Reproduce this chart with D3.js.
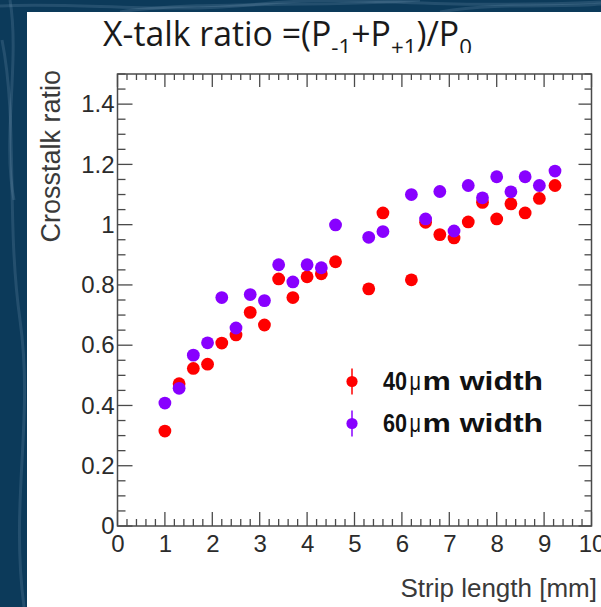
<!DOCTYPE html>
<html>
<head>
<meta charset="utf-8">
<script src="https://cdn.jsdelivr.net/npm/d3@7"></script>
<style>
  html, body { margin: 0; padding: 0; background: #0c3a5a; }
  svg { display: block; }
</style>
</head>
<body>
<svg id="chart" width="601" height="607"></svg>
<script>
// Strip lengths (mm) and measured crosstalk ratios for the two strip widths
const stripLength40 = [1.0, 1.3, 1.6, 1.9, 2.2, 2.5, 2.8, 3.1, 3.4, 3.7, 4.0, 4.3, 4.6, 5.3, 5.6, 6.2, 6.5, 6.8, 7.1, 7.4, 7.7, 8.0, 8.3, 8.6, 8.9, 9.23];
const ratio40 = [0.315, 0.472, 0.523, 0.537, 0.607, 0.634, 0.709, 0.667, 0.820, 0.758, 0.827, 0.837, 0.877, 0.787, 1.039, 0.817, 1.008, 0.967, 0.956, 1.009, 1.074, 1.019, 1.069, 1.039, 1.087, 1.130];
const stripLength60 = [1.0, 1.3, 1.6, 1.9, 2.2, 2.5, 2.8, 3.1, 3.4, 3.7, 4.0, 4.3, 4.6, 5.3, 5.6, 6.2, 6.5, 6.8, 7.1, 7.4, 7.7, 8.0, 8.3, 8.6, 8.9, 9.23];
const ratio60 = [0.408, 0.457, 0.567, 0.608, 0.758, 0.657, 0.768, 0.748, 0.867, 0.810, 0.867, 0.857, 0.999, 0.958, 0.977, 1.100, 1.019, 1.110, 0.979, 1.130, 1.089, 1.159, 1.109, 1.159, 1.130, 1.178];

const xTickValues = [0, 1, 2, 3, 4, 5, 6, 7, 8, 9, 10];
const xTickLabels = ["0", "1", "2", "3", "4", "5", "6", "7", "8", "9", "10"];
const yTickValues = [0, 0.2, 0.4, 0.6, 0.8, 1.0, 1.2, 1.4];
const yTickLabels = ["0", "0.2", "0.4", "0.6", "0.8", "1", "1.2", "1.4"];

const seriesNames = ["40", "60"];
const seriesColors = ["#ff0000", "#8800ff"];

const svg = d3.select("#chart");
const W = 601, H = 607;

// Slide background with faint streaks
svg.append("rect").attr("width", W).attr("height", H).attr("fill", "#0c3a5a");
const streaks = [
  "M0,6 C80,2 160,14 260,4 S420,10 601,2",
  "M120,12 C200,0 330,8 420,0",
  "M2,40 C18,120 6,220 20,320 S10,500 24,607",
  "M10,0 C20,60 2,140 14,200",
  "M440,12 C500,2 560,8 601,4"
];
svg.append("g").selectAll("path").data(streaks).join("path")
  .attr("d", d => d).attr("fill", "none")
  .attr("stroke", "#9fc3dc").attr("stroke-opacity", 0.16).attr("stroke-width", 3);

// White panel
svg.append("rect").attr("x", 27).attr("y", 12).attr("width", W - 27).attr("height", H - 12).attr("fill", "#ffffff");

// Title (bottom of the subscripts hidden under the plot image)
svg.append("defs").append("clipPath").attr("id", "titleClip")
  .append("rect").attr("x", 27).attr("y", 12).attr("width", W).attr("height", 41);
const title = svg.append("text")
  .attr("clip-path", "url(#titleClip)")
  .attr("x", 103).attr("y", 45.5)
  .attr("font-family", "'Open Sans', Lato, sans-serif")
  .attr("font-size", 30).attr("fill", "#1a1a1a");
const subSize = 0.66;
const titleParts = [
  { t: "X-talk ratio =(P", sub: false },
  { t: "-1", sub: true },
  { t: "+P", sub: false },
  { t: "+1", sub: true },
  { t: ")/P", sub: false },
  { t: "0", sub: true }
];
let lowered = false;
titleParts.forEach(p => {
  const ts = title.append("tspan").text(p.t);
  if (p.sub) { ts.attr("font-size", (30 * subSize).toFixed(1)).attr("dy", 9); lowered = true; }
  else if (lowered) { ts.attr("dy", -9); lowered = false; }
});
// Fit the title to its span on the slide
const titleWidth = title.node().getComputedTextLength();
const fitSize = 30 * 369 / titleWidth;
title.attr("font-size", fitSize.toFixed(2));
title.selectAll("tspan").filter((d, i) => titleParts[i].sub)
  .attr("font-size", (fitSize * subSize).toFixed(2));

// Plot frame geometry
const frameLeft = 117.5, frameRight = 591.5, frameTop = 74, frameBottom = 526;
const x = d3.scaleLinear().domain([0, 10]).range([frameLeft, frameRight]);
const y = d3.scaleLinear().domain([0, 1.5]).range([frameBottom, frameTop]);

const axisColor = "#4a4a4a";
const plot = svg.append("g");

// Minor tick positions: every 0.2 on x, every 0.05 on y
const xMinor = d3.range(0, 51).map(i => +(i * 0.2).toFixed(4));
const yMinor = d3.range(0, 31).map(i => +(i * 0.05).toFixed(4));
const isMajorX = d => Math.abs(d - Math.round(d)) < 1e-6;
const isMajorY = d => Math.abs(d / 0.2 - Math.round(d / 0.2)) < 1e-6;

const tickG = plot.append("g").attr("stroke", axisColor).attr("stroke-width", 1.3);
// x ticks: bottom (pointing up) and top (pointing down)
tickG.selectAll("line.xb").data(xMinor).join("line").attr("class", "xb")
  .attr("x1", d => x(d)).attr("x2", d => x(d))
  .attr("y1", frameBottom).attr("y2", d => frameBottom - (isMajorX(d) ? 14 : 7));
tickG.selectAll("line.xt").data(xMinor).join("line").attr("class", "xt")
  .attr("x1", d => x(d)).attr("x2", d => x(d))
  .attr("y1", frameTop).attr("y2", d => frameTop + (isMajorX(d) ? 13 : 6));
// y ticks: left (pointing right) and right (pointing left)
tickG.selectAll("line.yl").data(yMinor).join("line").attr("class", "yl")
  .attr("y1", d => y(d)).attr("y2", d => y(d))
  .attr("x1", frameLeft).attr("x2", d => frameLeft + (isMajorY(d) ? 15 : 8));
tickG.selectAll("line.yr").data(yMinor).join("line").attr("class", "yr")
  .attr("y1", d => y(d)).attr("y2", d => y(d))
  .attr("x1", frameRight).attr("x2", d => frameRight - (isMajorY(d) ? 13 : 7));

// Frame
plot.append("rect").attr("x", frameLeft).attr("y", frameTop)
  .attr("width", frameRight - frameLeft).attr("height", frameBottom - frameTop)
  .attr("fill", "none").attr("stroke", axisColor).attr("stroke-width", 1.5);

// Tick labels via d3 axes (lines hidden, only text kept)
const labelFont = "'Liberation Sans', Arial, sans-serif";
const xAxis = d3.axisBottom(x).tickValues(xTickValues)
  .tickFormat((d, i) => xTickLabels[i]).tickSize(0).tickPadding(9);
const gx = svg.append("g").attr("transform", `translate(0,${frameBottom})`).call(xAxis);
gx.select(".domain").remove();
gx.selectAll("text").attr("font-family", labelFont).attr("font-size", 24).attr("fill", "#2b2b2b");

const yAxis = d3.axisLeft(y).tickValues(yTickValues)
  .tickFormat((d, i) => yTickLabels[i]).tickSize(0).tickPadding(3);
const gy = svg.append("g").attr("transform", `translate(${frameLeft},0)`).call(yAxis);
gy.select(".domain").remove();
gy.selectAll("text").attr("font-family", labelFont).attr("font-size", 24).attr("fill", "#2b2b2b");

// Axis titles
svg.append("text").attr("x", 597).attr("y", 597).attr("text-anchor", "end")
  .attr("font-family", labelFont).attr("font-size", 26).attr("fill", "#3a3a3a")
  .text("Strip length [mm]");
svg.append("text").attr("transform", "translate(60,70) rotate(-90)").attr("text-anchor", "end")
  .attr("font-family", labelFont).attr("font-size", 27).attr("fill", "#3a3a3a")
  .text("Crosstalk ratio");

// Data points (40 µm first, 60 µm drawn on top)
const series = [
  { xs: stripLength40, ys: ratio40, color: seriesColors[0] },
  { xs: stripLength60, ys: ratio60, color: seriesColors[1] }
];
series.forEach(s => {
  plot.append("g").selectAll("circle").data(s.xs.map((v, i) => [v, s.ys[i]])).join("circle")
    .attr("cx", d => x(d[0])).attr("cy", d => y(d[1])).attr("r", 6.4)
    .attr("fill", s.color);
});

// Legend: marker with error bar, then "<width>μm width"
const legend = svg.append("g");
const legendRows = [{ cy: 381.5 }, { cy: 423.5 }];
legendRows.forEach((row, i) => {
  legend.append("line").attr("x1", 352).attr("x2", 352)
    .attr("y1", row.cy - 13).attr("y2", row.cy + 13)
    .attr("stroke", seriesColors[i]).attr("stroke-width", 1.5);
  legend.append("circle").attr("cx", 352).attr("cy", row.cy).attr("r", 5.6).attr("fill", seriesColors[i]);
  const t = legend.append("text").attr("y", row.cy + 8.5)
    .attr("font-family", labelFont).attr("font-size", 25).attr("fill", "#111")
    .attr("lengthAdjust", "spacingAndGlyphs");
  t.append("tspan").attr("x", 383).attr("font-weight", "bold")
    .attr("textLength", 24).attr("lengthAdjust", "spacingAndGlyphs").text(seriesNames[i]);
  t.append("tspan").attr("x", 409.5).attr("font-weight", "normal")
    .attr("textLength", 11.5).attr("lengthAdjust", "spacingAndGlyphs").text("\u03bc");
  t.append("tspan").attr("x", 422.5).attr("font-weight", "bold")
    .attr("textLength", 120.5).attr("lengthAdjust", "spacingAndGlyphs").text("m width");
});
</script>
</body>
</html>
